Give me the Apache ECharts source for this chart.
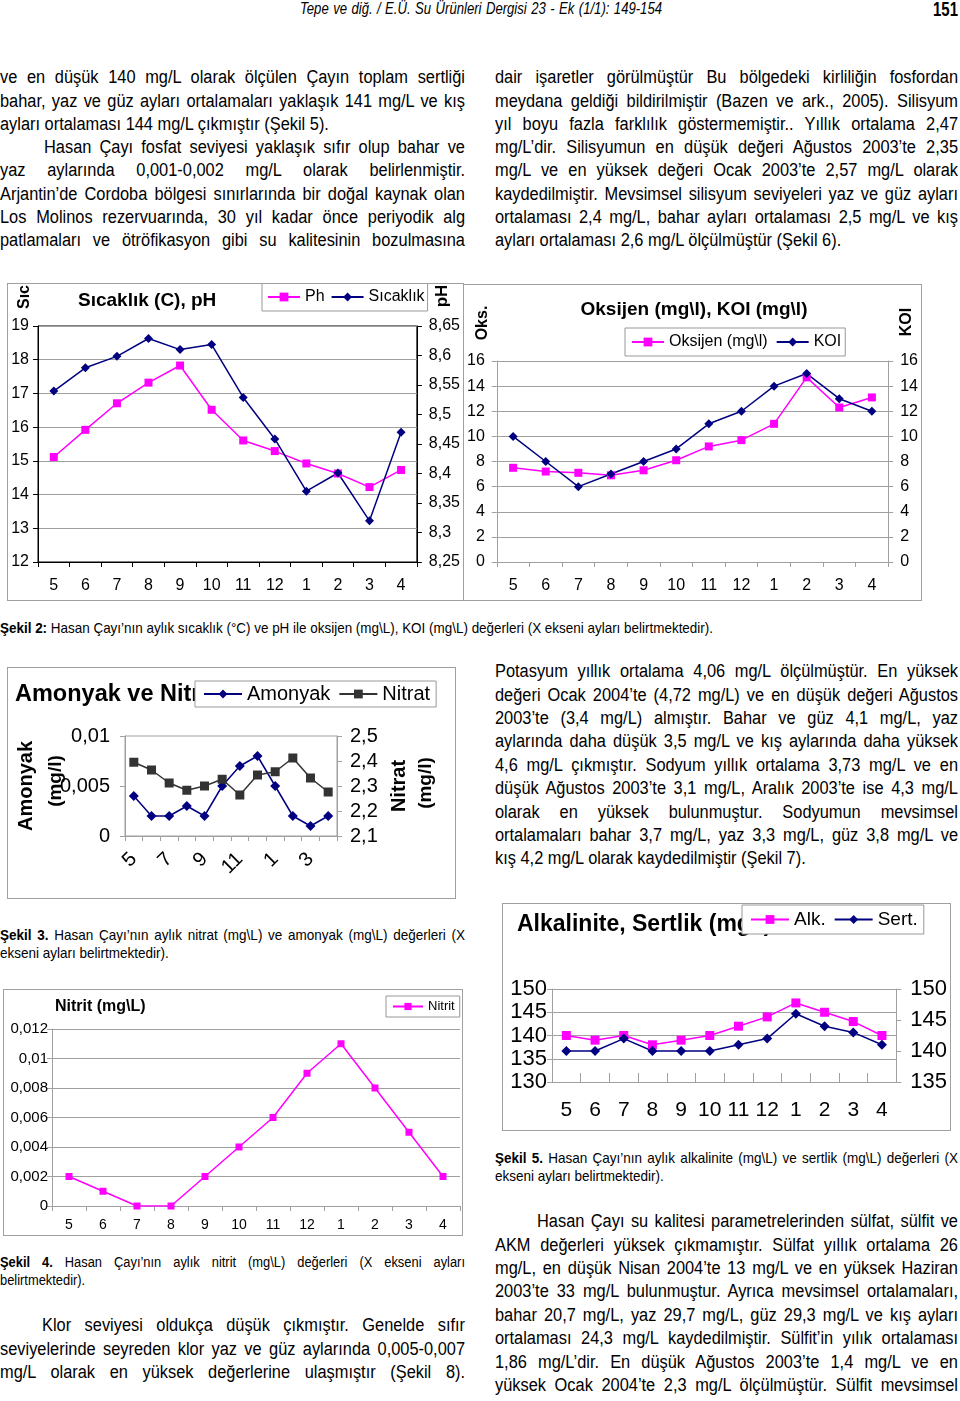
<!DOCTYPE html>
<html><head><meta charset="utf-8">
<script src="https://cdn.jsdelivr.net/npm/echarts@6/dist/echarts.min.js"></script>
<style>
html,body{margin:0;padding:0;background:#fff}
body{width:960px;height:1401px;position:relative;overflow:hidden}
.t{position:absolute;font-family:"Liberation Sans Narrow","Arial Narrow","Liberation Sans",Arial,sans-serif;color:#000;white-space:nowrap;transform-origin:0 0}
.j{text-align:justify;text-align-last:justify}
.box{position:absolute;border:1px solid #a0a0a0;box-sizing:border-box;background:#fff}
</style></head><body>
<div id="c2" class="box" style="left:463px;top:284px;width:459px;height:317px;z-index:1"></div>
<div id="c1" class="box" style="left:7px;top:283px;width:457px;height:318px;z-index:2"></div>
<div id="c3" class="box" style="left:7px;top:667px;width:449px;height:232px"></div>
<div id="c4" class="box" style="left:502px;top:903px;width:449px;height:228px"></div>
<div id="c5" class="box" style="left:3px;top:989px;width:460px;height:247px"></div>
<script>
// ---------- data ----------
const months = ['5','6','7','8','9','10','11','12','1','2','3','4'];
const sicaklik = [17.07, 17.76, 18.1, 18.63, 18.3, 18.45, 16.88, 15.65, 14.1, 14.64, 13.22, 15.85];
const ph = [8.428, 8.474, 8.519, 8.554, 8.583, 8.508, 8.456, 8.438, 8.417, 8.400, 8.377, 8.406];
const oksijen = [7.5, 7.2, 7.1, 6.9, 7.3, 8.1, 9.2, 9.7, 11.0, 14.7, 12.3, 13.1];
const koi = [10, 8, 6, 7, 8, 9, 11, 12, 14, 15, 13, 12];
const amonyak = [0.004, 0.002, 0.002, 0.003, 0.002, 0.005, 0.007, 0.008, 0.005, 0.002, 0.001, 0.002];
const nitrat = [2.395, 2.364, 2.312, 2.283, 2.300, 2.327, 2.264, 2.344, 2.357, 2.412, 2.332, 2.276];
const alk = [140, 139, 140, 138, 139, 140, 142, 144, 147, 145, 143, 140];
const sert = [140, 140, 142, 140, 140, 140, 141, 142, 146, 144, 143, 141];
const nitrit = [0.002, 0.001, 0, 0, 0.002, 0.004, 0.006, 0.009, 0.011, 0.008, 0.005, 0.002];

// ---------- text ----------
function addLine(html, x, y, w, size, just, narrow, extra) {
  const d = document.createElement('div');
  d.className = 't';
  d.style.left = x + 'px';
  d.style.fontSize = size + 'px';
  d.style.lineHeight = (size * 1.2) + 'px';
  d.style.top = (y - size * 0.6) + 'px';
  d.style.display = 'inline-block';
  if (extra) Object.assign(d.style, extra);
  d.innerHTML = html;
  document.body.appendChild(d);
  const nat = d.getBoundingClientRect().width;
  let s = narrow;
  if (nat * s > w) s = w / nat;
  d.style.display = 'block';
  d.style.width = (w / s) + 'px';
  d.style.transform = 'scaleX(' + s + ')';
  if (just) d.classList.add('j');
}
function para(lines, x, y0, w, size, step, indent, lastJust, narrow) {
  lines.forEach((t, i) => {
    const ind = (i === 0) ? indent : 0;
    const just = (i < lines.length - 1) || lastJust;
    addLine(t, x + ind, y0 + i * step, w - ind, size, just, narrow);
  });
}
const BODY = 0.91, CAP = 0.9;
addLine('Tepe ve diğ. / E.Ü. Su Ürünleri Dergisi 23 - Ek (1/1): 149-154', 300, 9, 362, 16, true, 0.82, {fontStyle:'italic'});
addLine('<b>151</b>', 933, 9, 25, 21, true, 0.82);

para(['ve en düşük 140 mg/L olarak ölçülen Çayın toplam sertliği',
  'bahar, yaz ve güz ayları ortalamaları yaklaşık 141 mg/L ve kış',
  'ayları ortalaması 144 mg/L çıkmıştır (Şekil 5).'], 0, 78, 465, 18, 23.3, 0, false, BODY);
para(['Hasan Çayı fosfat seviyesi yaklaşık sıfır olup bahar ve',
  'yaz aylarında 0,001-0,002 mg/L olarak belirlenmiştir.',
  'Arjantin’de Cordoba bölgesi sınırlarında bir doğal kaynak olan',
  'Los Molinos rezervuarında, 30 yıl kadar önce periyodik alg',
  'patlamaları ve ötröfikasyon gibi su kalitesinin bozulmasına'], 0, 78 + 3 * 23.3, 465, 18, 23.3, 44, true, BODY);
para(['dair işaretler görülmüştür Bu bölgedeki kirliliğin fosfordan',
  'meydana geldiği bildirilmiştir (Bazen ve ark., 2005). Silisyum',
  'yıl boyu fazla farklılık göstermemiştir.. Yıllık ortalama 2,47',
  'mg/L’dir. Silisyumun en düşük değeri Ağustos 2003’te 2,35',
  'mg/L ve en yüksek değeri Ocak 2003’te 2,57 mg/L olarak',
  'kaydedilmiştir. Mevsimsel silisyum seviyeleri yaz ve güz ayları',
  'ortalaması 2,4 mg/L, bahar ayları ortalaması 2,5 mg/L ve kış',
  'ayları ortalaması 2,6 mg/L ölçülmüştür (Şekil 6).'], 495, 78, 463, 18, 23.3, 0, false, BODY);
addLine('<b>Şekil 2:</b> Hasan Çayı’nın aylık sıcaklık (°C) ve pH ile oksijen (mg\\L), KOI (mg\\L) değerleri (X ekseni ayları belirtmektedir).', 0, 628, 713, 15, true, CAP);
para(['Potasyum yıllık ortalama 4,06 mg/L ölçülmüştür. En yüksek',
  'değeri Ocak 2004’te (4,72 mg/L) ve en düşük değeri Ağustos',
  '2003’te (3,4 mg/L) almıştır. Bahar ve güz 4,1 mg/L, yaz',
  'aylarında daha düşük 3,5 mg/L ve kış aylarında daha yüksek',
  '4,6 mg/L çıkmıştır. Sodyum yıllık ortalama 3,73 mg/L ve en',
  'düşük Ağustos 2003’te 3,1 mg/L, Aralık 2003’te ise 4,3 mg/L',
  'olarak en yüksek bulunmuştur. Sodyumun mevsimsel',
  'ortalamaları bahar 3,7 mg/L, yaz 3,3 mg/L, güz 3,8 mg/L ve',
  'kış 4,2 mg/L olarak kaydedilmiştir (Şekil 7).'], 495, 672, 463, 18, 23.4, 0, false, BODY);
para(['<b>Şekil 3.</b> Hasan Çayı’nın aylık nitrat (mg\\L) ve amonyak (mg\\L) değerleri (X',
  'ekseni ayları belirtmektedir).'], 0, 935, 465, 15, 18, 0, false, CAP);
para(['<b>Şekil 5.</b> Hasan Çayı’nın aylık alkalinite (mg\\L) ve sertlik (mg\\L) değerleri (X',
  'ekseni ayları belirtmektedir).'], 495, 1158, 463, 15, 18, 0, false, CAP);
para(['<b>Şekil 4.</b> Hasan Çayı’nın aylık nitrit (mg\\L) değerleri (X ekseni ayları',
  'belirtmektedir).'], 0, 1262, 465, 14, 18, 0, false, 0.92);
para(['Klor seviyesi oldukça düşük çıkmıştır. Genelde sıfır',
  'seviyelerinde seyreden klor yaz ve güz aylarında 0,005-0,007',
  'mg/L olarak en yüksek değerlerine ulaşmıştır (Şekil 8).'], 0, 1326, 465, 18, 23.3, 42, true, BODY);
para(['Hasan Çayı su kalitesi parametrelerinden sülfat, sülfit ve',
  'AKM değerleri yüksek çıkmamıştır. Sülfat yıllık ortalama 26',
  'mg/L, en düşük Nisan 2004’te 13 mg/L ve en yüksek Haziran',
  '2003’te 33 mg/L bulunmuştur. Ayrıca mevsimsel ortalamaları,',
  'bahar 20,7 mg/L, yaz 29,7 mg/L, güz 29,3 mg/L ve kış ayları',
  'ortalaması 24,3 mg/L kaydedilmiştir. Sülfit’in yılık ortalaması',
  '1,86 mg/L’dir. En düşük Ağustos 2003’te 1,4 mg/L ve en',
  'yüksek Ocak 2004’te 2,3 mg/L ölçülmüştür. Sülfit mevsimsel'], 495, 1222, 463, 18, 23.4, 42, true, BODY);

// ---------- charts ----------
const FF = '"Liberation Sans", Arial, sans-serif';
const fmt = v => String(+(+v).toFixed(4)).replace('.', ',');
const NAVY = '#000080', MAG = '#ff00ff', GRID = '#a0a0a0';
function vtext(text, x, y, size, weight) {
  return {type:'text', x:x, y:y, rotation:Math.PI/2, z:1,
    style:{text:text, fontSize:size, fontWeight:weight||'bold', fontFamily:FF, fill:'#000',
      align:'center', verticalAlign:'middle', textAlign:'center', textVerticalAlign:'middle'}};
}
function htext(text, left, top, size, weight) {
  return {type:'text', left:left, top:top, z:0,
    style:{text:text, fontSize:size, fontWeight:weight||'bold', fontFamily:FF, fill:'#000'}};
}
function legendCfg(left, top, size, extra) {
  return Object.assign({left:left, top:top, z:10, itemWidth:36, itemHeight:11, itemGap:8,
    padding:[6,6,6,8], borderColor:'#999', borderWidth:1, backgroundColor:'#fff',
    textStyle:{fontSize:size, color:'#000', fontFamily:FF}}, extra || {});
}
function lineSeries(name, data, color, symbol, yIdx, size) {
  return {name:name, type:'line', data:data, yAxisIndex:yIdx, symbol:symbol,
    symbolSize:size || (symbol === 'rect' ? 8 : 9), itemStyle:{color:color},
    lineStyle:{color:color, width:1.5}, emphasis:{disabled:true}};
}
function xCat(size, margin, color, extra) {
  return Object.assign({type:'category', data:months, boundaryGap:true,
    axisLine:{show:true, lineStyle:{color:color}},
    axisTick:{show:true, length:5, interval:0, lineStyle:{color:color}},
    axisLabel:{fontSize:size, color:'#000', margin:margin, interval:0, fontFamily:FF},
    splitLine:{show:false}}, extra || {});
}
function yVal(min, max, interval, size, margin, color, grid, pos) {
  return {type:'value', min:min, max:max, interval:interval, position:pos || 'left',
    axisLine:{show:true, lineStyle:{color:color}},
    axisTick:{show:true, length:5, lineStyle:{color:color}},
    axisLabel:{fontSize:size, color:'#000', margin:margin, formatter:fmt, fontFamily:FF},
    splitLine:{show:!!grid, lineStyle:{color:GRID}}};
}

// Chart 1
echarts.init(document.getElementById('c1')).setOption({
  animation:false,
  grid:{left:30, right:43, top:42, bottom:38, show:true, borderColor:'#000', borderWidth:1},
  legend:legendCfg(254, -1, 16, {data:['Ph','Sıcaklık'], itemWidth:32, itemGap:6, padding:[6,3,6,5]}),
  xAxis:xCat(16, 16, '#000'),
  yAxis:[yVal(12, 19, 1, 16, 9, '#000', true), yVal(8.25, 8.65, 0.05, 16, 12, '#000', false, 'right')],
  series:[lineSeries('Ph', ph, MAG, 'rect', 1), lineSeries('Sıcaklık', sicaklik, NAVY, 'diamond', 0)],
  graphic:[htext('Sıcaklık (C), pH', 70, 7, 19), vtext('Sıc', 17, 13, 16), vtext('pH', 434, 12, 17)]
});

// Chart 2
echarts.init(document.getElementById('c2')).setOption({
  animation:false,
  grid:{left:29, right:30, top:76, bottom:38},
  legend:legendCfg(161, 43, 16, {data:['Oksijen (mg\\l)','KOI'], itemWidth:32, itemGap:8, padding:[6,4,6,6]}),
  xAxis:xCat(16, 16, GRID),
  yAxis:[yVal(0, 16, 2, 16, 12, GRID, true), yVal(0, 16, 2, 16, 12, GRID, false, 'right')],
  series:[lineSeries('Oksijen (mg\\l)', oksijen, MAG, 'rect', 0), lineSeries('KOI', koi, NAVY, 'diamond', 1)],
  graphic:[{type:'text', x:230, y:25, z:0, style:{text:'Oksijen (mg\\l), KOI (mg\\l)', fontSize:19, fontWeight:'bold',
      fontFamily:FF, fill:'#000', align:'center', verticalAlign:'middle', textAlign:'center', textVerticalAlign:'middle'}},
    vtext('Oks.', 19, 38, 16), vtext('KOI', 443, 37, 16)]
});

// Chart 3
echarts.init(document.getElementById('c3')).setOption({
  animation:false,
  grid:{left:117, right:118, top:68, bottom:62, show:true, borderColor:GRID, borderWidth:1},
  legend:legendCfg(187, 13, 20, {data:['Amonyak','Nitrat'], itemWidth:38, padding:[3,6,3,8]}),
  xAxis:xCat(20, 10, GRID, {axisLabel:{fontSize:20, color:'#000', margin:20, interval:1, rotate:45, fontFamily:FF}}),
  yAxis:[yVal(0, 0.01, 0.005, 20, 15, GRID, false), yVal(2.1, 2.5, 0.1, 20, 13, GRID, false, 'right')],
  series:[lineSeries('Amonyak', amonyak, NAVY, 'diamond', 0, 10), lineSeries('Nitrat', nitrat, '#333333', 'rect', 1, 9)],
  graphic:[htext('Amonyak ve Nitrat', 7, 15, 23.5), vtext('Amonyak', 18, 118, 20), vtext('(mg/l)', 48, 113, 19),
    vtext('Nitrat', 391, 118, 20), vtext('(mg/l)', 418, 115, 19)]
});

// Chart 4
echarts.init(document.getElementById('c4')).setOption({
  animation:false,
  grid:{left:49, right:49, top:85, bottom:48},
  legend:legendCfg(239, 1, 19, {data:['Alk.','Sert.'], itemWidth:38, padding:[5,6,5,8]}),
  xAxis:xCat(21, 18, GRID, {axisTick:{show:true, inside:true, length:9, interval:0, lineStyle:{color:GRID}}}),
  yAxis:[yVal(130, 150, 5, 22, 5, GRID, true), yVal(135, 150, 5, 22, 14, GRID, false, 'right')],
  series:[lineSeries('Alk.', alk, MAG, 'rect', 0, 9), lineSeries('Sert.', sert, NAVY, 'diamond', 1, 10)],
  graphic:[htext('Alkalinite, Sertlik (mg\\l)', 14, 9, 23)]
});

// Chart 5
echarts.init(document.getElementById('c5')).setOption({
  animation:false,
  grid:{left:48, right:2, top:39, bottom:29},
  legend:legendCfg(382, 6, 13, {data:['Nitrit'], itemWidth:30, itemHeight:9, padding:[4,5,4,6]}),
  xAxis:xCat(14, 12, GRID),
  yAxis:[yVal(0, 0.012, 0.002, 15, 4, GRID, true)],
  series:[lineSeries('Nitrit', nitrit, MAG, 'rect', 0, 7)],
  graphic:[htext('Nitrit (mg\\L)', 51, 9, 16)]
});
</script>
</body></html>
